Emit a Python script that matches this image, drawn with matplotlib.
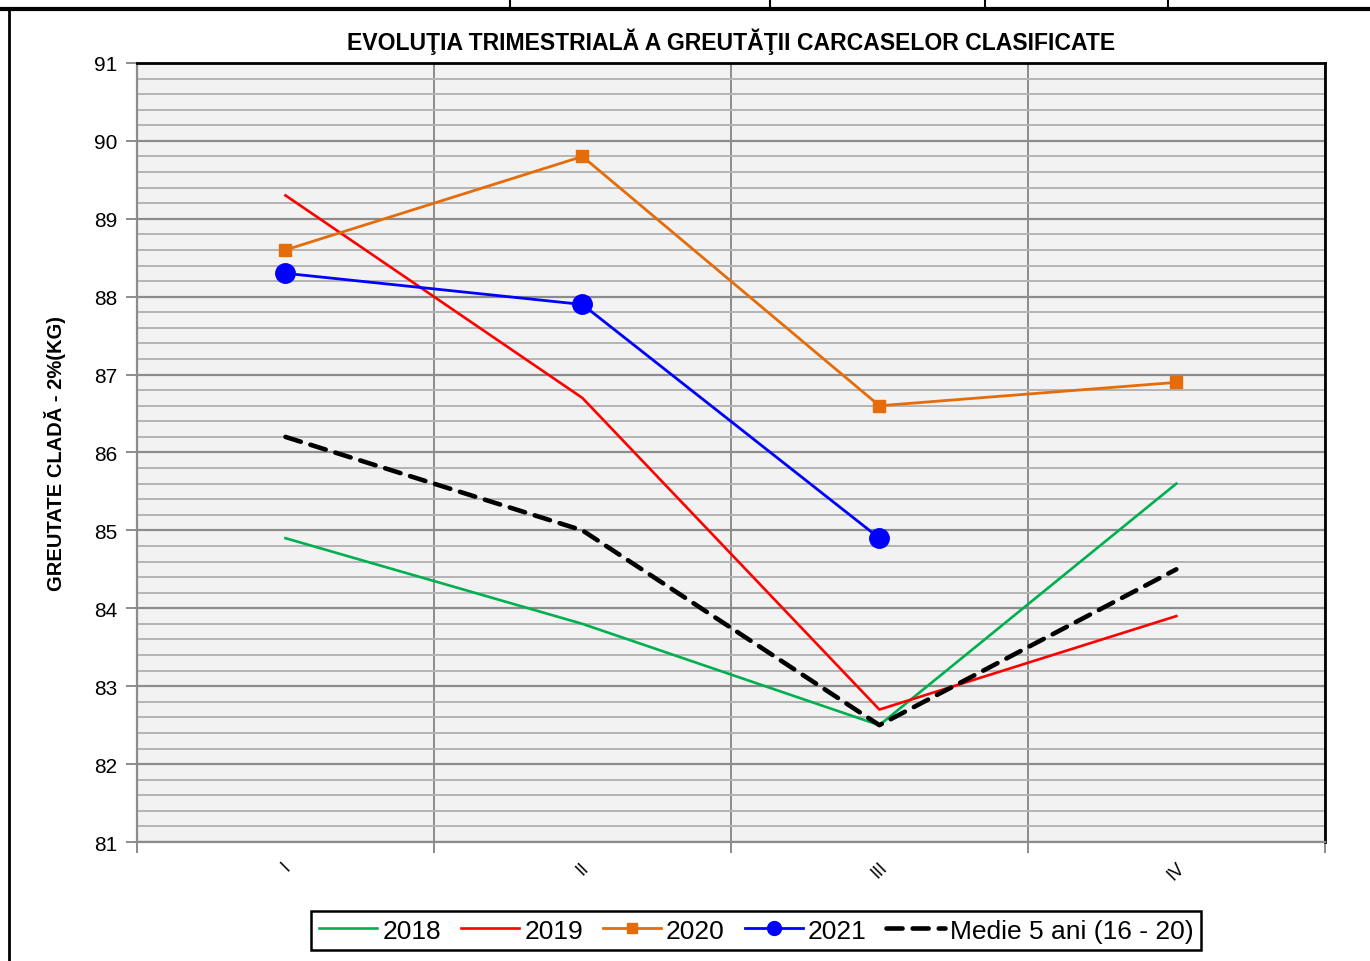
import numpy as np
import matplotlib.pyplot as plt
from matplotlib.lines import Line2D
from matplotlib.ticker import MultipleLocator

plt.rcParams['font.family'] = ['Liberation Sans', 'DejaVu Sans']

# Quarterly carcass weight (kg)
quarters = ["I", "II", "III", "IV"]
w_2018 = [84.9, 83.8, 82.5, 85.6]
w_2019 = [89.3, 86.7, 82.7, 83.9]
w_2020 = [88.6, 89.8, 86.6, 86.9]
w_2021 = [88.3, 87.9, 84.9]
w_avg = [86.2, 85.0, 82.5, 84.5]

fig = plt.figure(figsize=(13.7, 9.62), dpi=100)
ax = fig.add_axes([0.1, 0.1237, 0.867, 0.8098])
ax.set_facecolor('#F2F2F2')

x = np.arange(len(quarters)) + 0.5

ax.plot(x, w_2018, color='#00B050', lw=1.9, label='2018', zorder=3)
ax.plot(x, w_2019, color='#FF0000', lw=1.9, label='2019', zorder=3)
ax.plot(x, w_2020, color='#E46C0A', lw=2.0, marker='s', ms=8, label='2020', zorder=4)
ax.plot(x[:len(w_2021)], w_2021, color='#0000FF', lw=2.0, marker='o', ms=14,
        label='2021', zorder=5)
ax.plot(x, w_avg, color='black', lw=3.3, ls=(0, (3.5, 2.2)), dash_capstyle='round',
        label='Medie 5 ani (16 - 20)', zorder=6)

ax.set_xlim(0, 4)
ax.set_ylim(81, 91)

# grid
ax.yaxis.set_major_locator(MultipleLocator(1))
ax.yaxis.set_minor_locator(MultipleLocator(0.2))
ax.grid(which='major', axis='y', color='#8C8C8C', lw=1.6, zorder=1)
ax.grid(which='minor', axis='y', color='#B4B4B4', lw=1.4, zorder=1)
ax.set_xticks(np.arange(5))
ax.set_xticks(x, minor=True)
ax.set_xticklabels([])
ax.set_xticklabels(quarters, minor=True, rotation=45, ha='center', va='top', fontsize=13)
ax.grid(which='major', axis='x', color='#8C8C8C', lw=1.4, zorder=1)
ax.set_axisbelow(True)

ax.tick_params(axis='y', which='major', length=8, width=1.4, color='#8C8C8C',
               labelsize=15, pad=6)
ax.tick_params(axis='y', which='minor', length=0)
ax.tick_params(axis='x', which='major', length=8, width=1.4, color='#8C8C8C')
ax.tick_params(axis='x', which='minor', length=0, pad=12)

for side in ['left', 'bottom']:
    ax.spines[side].set_color('#8C8C8C')
    ax.spines[side].set_linewidth(1.6)
for side in ['right', 'top']:
    ax.spines[side].set_color('black')
    ax.spines[side].set_linewidth(2)

ax.set_title('EVOLUŢIA TRIMESTRIALĂ A GREUTĂŢII CARCASELOR CLASIFICATE',
             fontsize=16.6, fontweight='bold', pad=10)
ax.set_ylabel('GREUTATE CLADĂ - 2%(KG)', fontsize=14.5, fontweight='bold', labelpad=20)

leg = fig.legend(loc='center', bbox_to_anchor=(0.552, 0.0317), ncol=5, fontsize=19,
                 frameon=True, fancybox=False, edgecolor='black', framealpha=1,
                 handlelength=2.2, handletextpad=0.2, columnspacing=0.75,
                 borderpad=0.3, borderaxespad=0)
leg.get_frame().set_linewidth(1.8)
leg.legend_handles[2].set_markersize(7)
leg.legend_handles[3].set_markersize(10)

# page frame around the chart and table edge above it
fig.add_artist(Line2D([0, 1], [1 - 10 / 962] * 2, color='black', lw=3))
fig.add_artist(Line2D([9 / 1370] * 2, [0, 1 - 10 / 962], color='black', lw=2))
for xp in [510, 770, 985, 1168]:
    fig.add_artist(Line2D([xp / 1370] * 2, [1 - 10 / 962, 1], color='black', lw=1.5))

fig.savefig('out.png', dpi=100)
